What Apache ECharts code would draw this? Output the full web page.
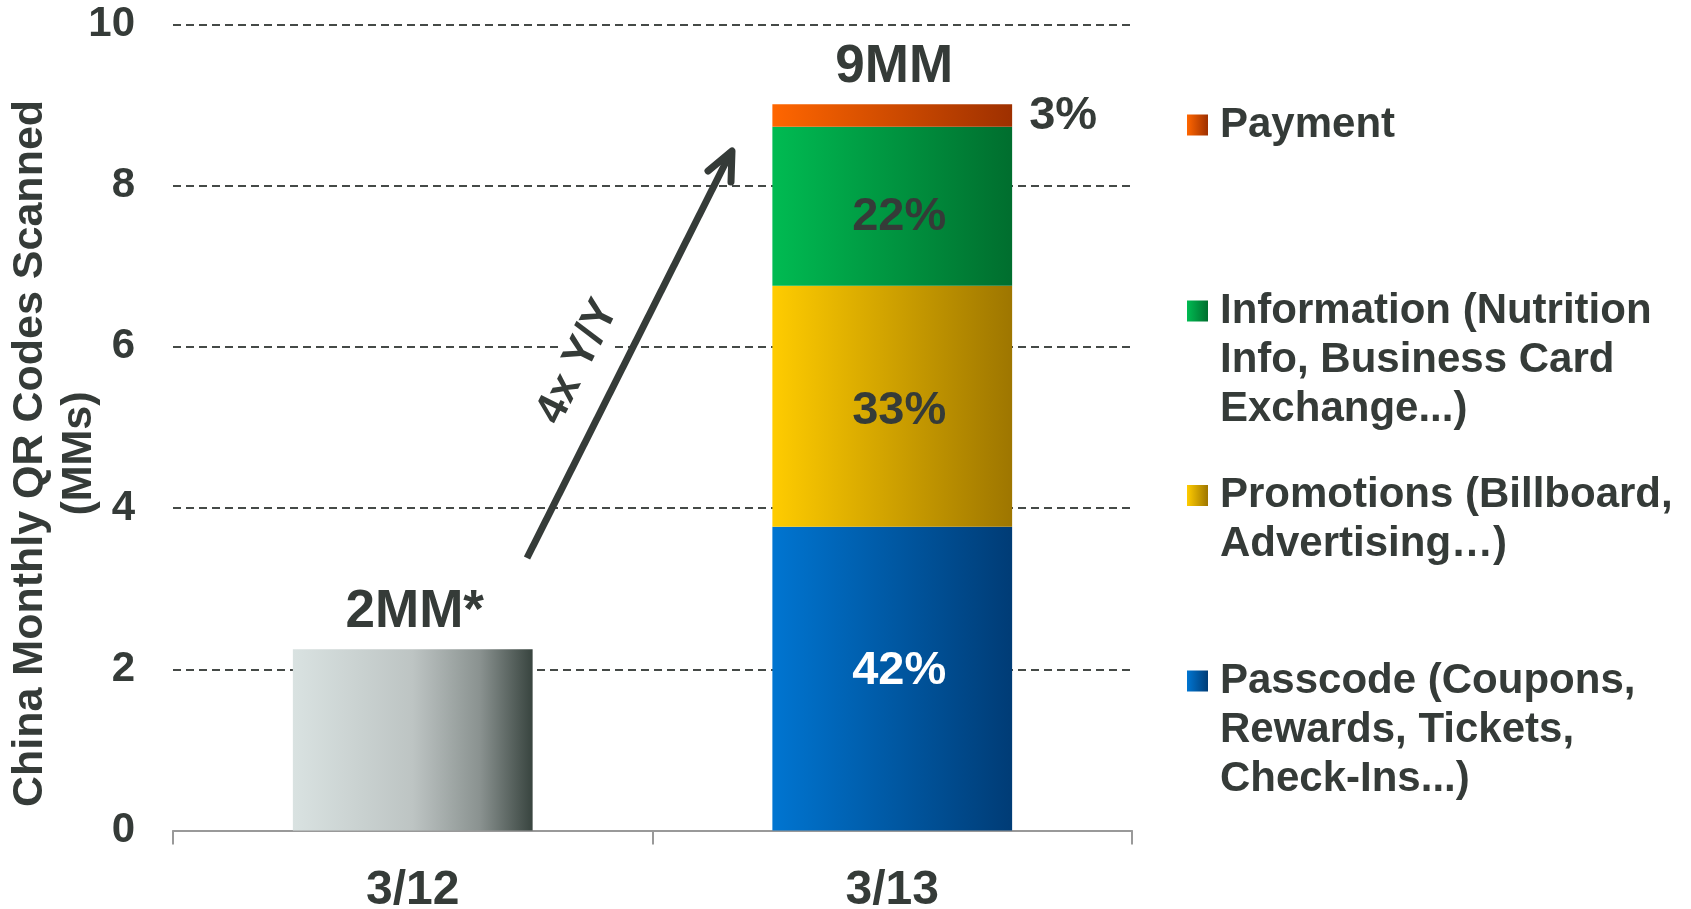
<!DOCTYPE html>
<html>
<head>
<meta charset="utf-8">
<script src="https://cdn.jsdelivr.net/npm/echarts@6/dist/echarts.min.js"></script>
<style>
  html, body { margin: 0; padding: 0; background: #fff; }
  #chart { width: 1691px; height: 909px; }
</style>
</head>
<body>
<div id="chart"></div>
<script>
// data (MMs)
var categories = ['3/12', '3/13']
var totalLabels = ['2MM*', '9MM']
var priorYear = [2.25, '-']
var passcode = ['-', 3.77]
var promotions = ['-', 2.99]
var information = ['-', 1.97]
var payment = ['-', 0.28]
var shareLabels = { Passcode: '42%', Promotions: '33%', Information: '22%', Payment: '3%' }
var yTicks = { min: 0, max: 10, interval: 2 }

var legendLines = {
  Payment: ['Payment'],
  Information: ['Information (Nutrition', 'Info, Business Card', 'Exchange...)'],
  Promotions: ['Promotions (Billboard,', 'Advertising…)'],
  Passcode: ['Passcode (Coupons,', 'Rewards, Tickets,', 'Check-Ins...)']
}

var FONT = "'Liberation Sans', Arial, sans-serif"
var TEXT = '#353b38'
var LH = 49

function grad(c1, c2, stops) {
  var list = stops || [{ offset: 0, color: c1 }, { offset: 1, color: c2 }]
  return new echarts.graphic.LinearGradient(0, 0, 1, 0, list)
}

var chart = echarts.init(document.getElementById('chart'))

function segment(name, data, color, labelColor, pos, offset) {
  return {
    name: name,
    type: 'bar',
    stack: 'qr',
    barWidth: '50%',
    data: data,
    itemStyle: { color: color },
    label: {
      show: true,
      position: pos || 'inside',
      distance: 17,
      offset: offset || [0, 0],
      formatter: shareLabels[name],
      color: labelColor,
      fontFamily: FONT,
      fontWeight: 'bold',
      fontSize: 47
    }
  }
}

// one legend per entry, icon lined up with the first text line
var legendCenters = { Payment: 125, Information: 311, Promotions: 495.5, Passcode: 681 }
var legends = Object.keys(legendLines).map(function (name) {
  var n = legendLines[name].length
  var pad = []
  for (var i = 1; i < n; i++) pad.push('')
  return {
    data: [name],
    orient: 'vertical',
    left: 1187,
    top: legendCenters[name] - (2 * n - 1) * LH / 2,
    padding: 0,
    icon: 'rect',
    itemWidth: 21,
    itemHeight: 21,
    selectedMode: false,
    formatter: function () {
      return pad.concat(legendLines[name]).join('\n')
    },
    textStyle: {
      fontFamily: FONT,
      fontWeight: 'bold',
      fontSize: 42,
      lineHeight: LH,
      color: TEXT,
      padding: [0, 0, 0, 7]
    }
  }
})

var option = {
  animation: false,
  backgroundColor: '#fff',
  grid: {
    left: 173,
    right: 559,
    top: 24.5,
    bottom: 78.5,
    containLabel: false,
    outerBoundsMode: 'none'
  },
  legend: legends,
  xAxis: {
    type: 'category',
    data: categories,
    axisLine: { lineStyle: { color: '#999', width: 2 } },
    axisTick: { show: true, length: 14, lineStyle: { color: '#999', width: 2 } },
    axisLabel: {
      margin: 36,
      fontFamily: FONT,
      fontWeight: 'bold',
      fontSize: 48,
      color: TEXT
    },
    splitLine: { show: false }
  },
  yAxis: {
    type: 'value',
    min: yTicks.min,
    max: yTicks.max,
    interval: yTicks.interval,
    name: 'China Monthly QR Codes Scanned\n(MMs)',
    nameLocation: 'middle',
    nameRotate: 90,
    nameGap: 69,
    nameMoveOverlap: false,
    nameTextStyle: {
      fontFamily: FONT,
      fontWeight: 'bold',
      fontSize: 43,
      lineHeight: 49,
      color: TEXT,
      padding: [0, 52, 0, 0]
    },
    axisLine: { show: false },
    axisTick: { show: false },
    axisLabel: {
      margin: 38,
      fontFamily: FONT,
      fontWeight: 'bold',
      fontSize: 42,
      color: TEXT
    },
    splitLine: {
      lineStyle: { color: '#454a47', width: 2, type: [8, 5] }
    }
  },
  series: [
    {
      name: 'Prior year',
      type: 'bar',
      stack: 'qr',
      barWidth: '50%',
      data: priorYear,
      itemStyle: {
        color: grad(null, null, [
          { offset: 0, color: '#d9e2e1' },
          { offset: 0.5, color: '#bdc4c3' },
          { offset: 0.78, color: '#8a9290' },
          { offset: 1, color: '#38443f' }
        ])
      }
    },
    segment('Passcode', passcode, grad('#0075d1', '#003c76'), '#ffffff', 'inside', [7, -8]),
    segment('Promotions', promotions, grad('#ffcc00', '#9e7600'), TEXT, 'inside', [7, 5]),
    segment('Information', information, grad('#00bb52', '#006e2e'), TEXT, 'inside', [7, 11]),
    segment('Payment', payment, grad('#ff6600', '#9e3000'), TEXT, 'right'),
    {
      name: 'Total',
      type: 'bar',
      stack: 'qr',
      barWidth: '50%',
      data: categories.map(function () { return 0 }),
      itemStyle: { color: 'transparent' },
      label: {
        show: true,
        position: 'top',
        distance: 10,
        offset: [2, 0],
        formatter: function (p) { return totalLabels[p.dataIndex] },
        fontFamily: FONT,
        fontWeight: 'bold',
        fontSize: 53,
        color: TEXT
      }
    }
  ],
  graphic: [
    {
      type: 'text',
      x: 578,
      y: 362,
      rotation: 1.1066,
      z: 10,
      style: {
        text: '4x Y/Y',
        align: 'center',
        verticalAlign: 'middle',
        fontFamily: FONT,
        fontWeight: 'bold',
        fontSize: 44,
        fill: TEXT,
        backgroundColor: '#fff',
        padding: [2, 6]
      }
    },
    {
      type: 'polyline',
      z: 11,
      shape: { points: [[527, 558], [731, 152]] },
      style: { stroke: TEXT, lineWidth: 7 }
    },
    {
      type: 'polyline',
      z: 11,
      shape: { points: [[708, 171], [732, 151], [731, 182]] },
      style: { stroke: TEXT, lineWidth: 7, fill: null, lineCap: 'round', lineJoin: 'round' }
    }
  ]
}

chart.setOption(option)
</script>
</body>
</html>
